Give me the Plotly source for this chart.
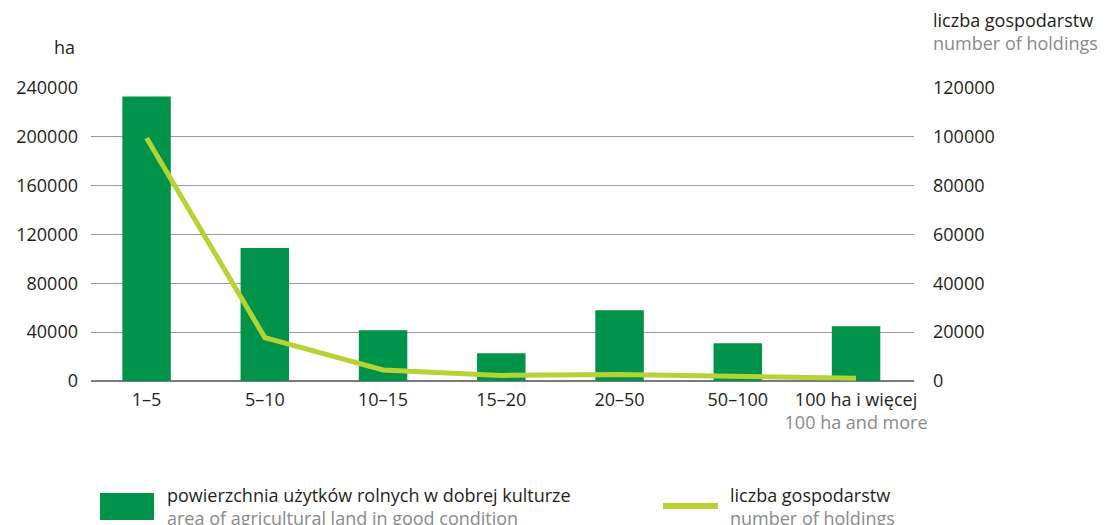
import plotly.graph_objects as go

categories = ["1–5", "5–10", "10–15", "15–20", "20–50", "50–100", "100 ha i więcej"]
category_sub = ["", "", "", "", "", "", "100 ha and more"]
area_ha = [233000, 109000, 41500, 22700, 57900, 30900, 44800]
holdings = [99500, 17800, 4500, 2300, 2700, 1650, 1100]
left_ticks = [0, 40000, 80000, 120000, 160000, 200000, 240000]
right_ticks = [0, 20000, 40000, 60000, 80000, 100000, 120000]

BAR = "#02934A"
LINE = "#B5D334"
DARK = "#231F20"
GRAY = "#8A8A8A"
FONT = "Open Sans"

ticktext = []
for c, s in zip(categories, category_sub):
    if s:
        ticktext.append(f"{c}<br><span style='color:{GRAY}'>{s}</span>")
    else:
        ticktext.append(c)

fig = go.Figure()
fig.add_trace(go.Bar(x=list(range(len(categories))), y=area_ha, marker_color=BAR,
                     marker_line_width=0, width=0.41, name="area", yaxis="y"))
fig.add_trace(go.Scatter(x=list(range(len(categories))), y=holdings, mode="lines",
                         line=dict(color=LINE, width=5), name="holdings", yaxis="y2"))

# page body adds an 8px offset; margins compensate for it
fig.update_layout(
    width=1114, height=525,
    margin=dict(l=83, r=208, t=80, b=152, autoexpand=False),
    paper_bgcolor="white", plot_bgcolor="white",
    showlegend=False,
    font=dict(family=FONT, size=18, color=DARK),
    xaxis=dict(range=[-0.47, 6.49], tickmode="array", tickvals=list(range(len(categories))),
               ticktext=ticktext, showgrid=False, zeroline=False, showline=False,
               ticks="", tickfont=dict(size=18, color=DARK), ticklabelstandoff=6,
               automargin=False),
    yaxis=dict(range=[0, 240000], tickmode="array", tickvals=left_ticks,
               ticktext=[str(v) for v in left_ticks],
               showgrid=True, gridcolor="#9A9A9A", gridwidth=1.2,
               zeroline=True, zerolinecolor="#7A7A7A", zerolinewidth=1.5,
               showline=False, ticks="", tickfont=dict(size=18, color=DARK),
               ticklabelstandoff=12, automargin=False),
    yaxis2=dict(range=[0, 120000], overlaying="y", side="right", tickmode="array",
                tickvals=right_ticks, ticktext=[str(v) for v in right_ticks],
                showgrid=False, zeroline=False, showline=False, ticks="",
                tickfont=dict(size=18, color=DARK), ticklabelstandoff=18,
                automargin=False),
)

ann = []
ann.append(dict(text="ha", xref="paper", yref="paper", x=-0.017, y=1.0,
                yshift=41, xanchor="right", yanchor="middle", showarrow=False,
                font=dict(size=18, color=DARK)))
ann.append(dict(text=f"liczba gospodarstw<br><span style='color:{GRAY}'>number of holdings</span>",
                xref="paper", yref="paper", x=1.0, xshift=17, y=1.0, yshift=57,
                xanchor="left", yanchor="middle", align="left", showarrow=False,
                font=dict(size=18, color=DARK)))
ann.append(dict(text=f"powierzchnia użytków rolnych w dobrej kulturze<br><span style='color:{GRAY}'>area of agricultural land in good condition</span>",
                xref="paper", yref="paper", x=(165 - 91) / 823, y=(381 - 506) / 293,
                xanchor="left", yanchor="middle", align="left", showarrow=False,
                font=dict(size=18, color=DARK)))
ann.append(dict(text=f"liczba gospodarstw<br><span style='color:{GRAY}'>number of holdings</span>",
                xref="paper", yref="paper", x=(728 - 91) / 823, y=(381 - 506) / 293,
                xanchor="left", yanchor="middle", align="left", showarrow=False,
                font=dict(size=18, color=DARK)))
fig.update_layout(annotations=ann)

shapes = [
    dict(type="rect", xref="paper", yref="paper",
         x0=(100 - 91) / 823, x1=(154 - 91) / 823,
         y0=(381 - 520) / 293, y1=(381 - 493) / 293,
         fillcolor=BAR, line=dict(width=0)),
    dict(type="line", xref="paper", yref="paper",
         x0=(663 - 91) / 823, x1=(718 - 91) / 823,
         y0=(381 - 506) / 293, y1=(381 - 506) / 293,
         line=dict(color=LINE, width=6)),
]
fig.update_layout(shapes=shapes)

fig.write_html("out.html")
